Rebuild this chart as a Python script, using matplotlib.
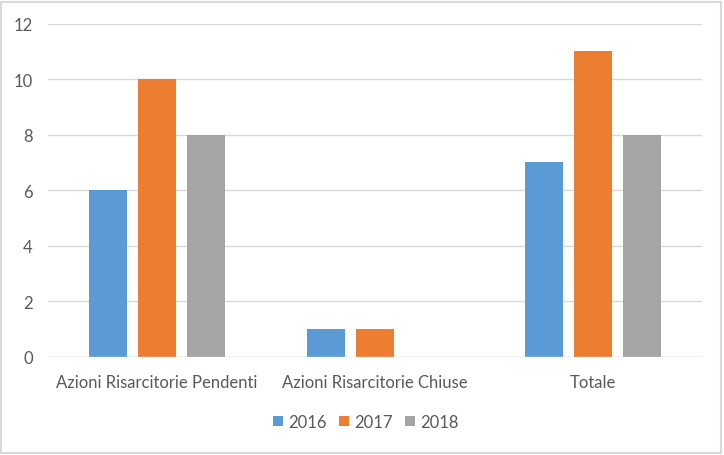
import matplotlib.pyplot as plt
from matplotlib.patches import Rectangle
import numpy as np

categorie = ['Azioni Risarcitorie Pendenti', 'Azioni Risarcitorie Chiuse', 'Totale']
anni = ['2016', '2017', '2018']
valori_2016 = [6, 1, 7]
valori_2017 = [10, 1, 11]
valori_2018 = [8, 0, 8]
colori = ['#5B9BD5', '#ED7D31', '#A5A5A5']

plt.rcParams['font.family'] = ['Lato', 'DejaVu Sans']
testo = '#595959'

fig = plt.figure(figsize=(7.24, 4.56), dpi=100)
ax = fig.add_axes([48/724, (456-358)/456, (702-48)/724, (358-24.5)/456])

x = np.arange(len(categorie))
larg = 0.174
passo = 0.225
serie = [valori_2016, valori_2017, valori_2018]
for i, (anno, vals) in enumerate(zip(anni, serie)):
    ax.bar(x + (i-1)*passo, vals, width=larg, color=colori[i], label=anno, zorder=3)

ax.set_xlim(-0.5, 2.5)
ax.set_ylim(0, 12)
ax.set_yticks(range(0, 13, 2))
ax.yaxis.grid(True, color='#D9D9D9', linewidth=1, zorder=0)
for s in ax.spines.values():
    s.set_visible(False)
ax.axhline(0, color='#D9D9D9', linewidth=1, zorder=4)
ax.set_xticks(x)
ax.set_xticklabels(categorie)
ax.tick_params(length=0, labelsize=12, colors=testo)
ax.tick_params(axis='x', pad=12)
ax.tick_params(axis='y', pad=11)

leg = fig.legend(loc='center', bbox_to_anchor=(366/724, (456-423)/456), ncol=3,
                 frameon=False, fontsize=12, handlelength=0.6, handleheight=0.6,
                 handletextpad=0.35, columnspacing=0.7)
for t in leg.get_texts():
    t.set_color(testo)

fig.patches.append(Rectangle((0.002, 0.004), 0.994, 0.99, transform=fig.transFigure,
                             fill=False, edgecolor='#D9D9D9', linewidth=1.5))

fig.savefig('out.png', dpi=100)
